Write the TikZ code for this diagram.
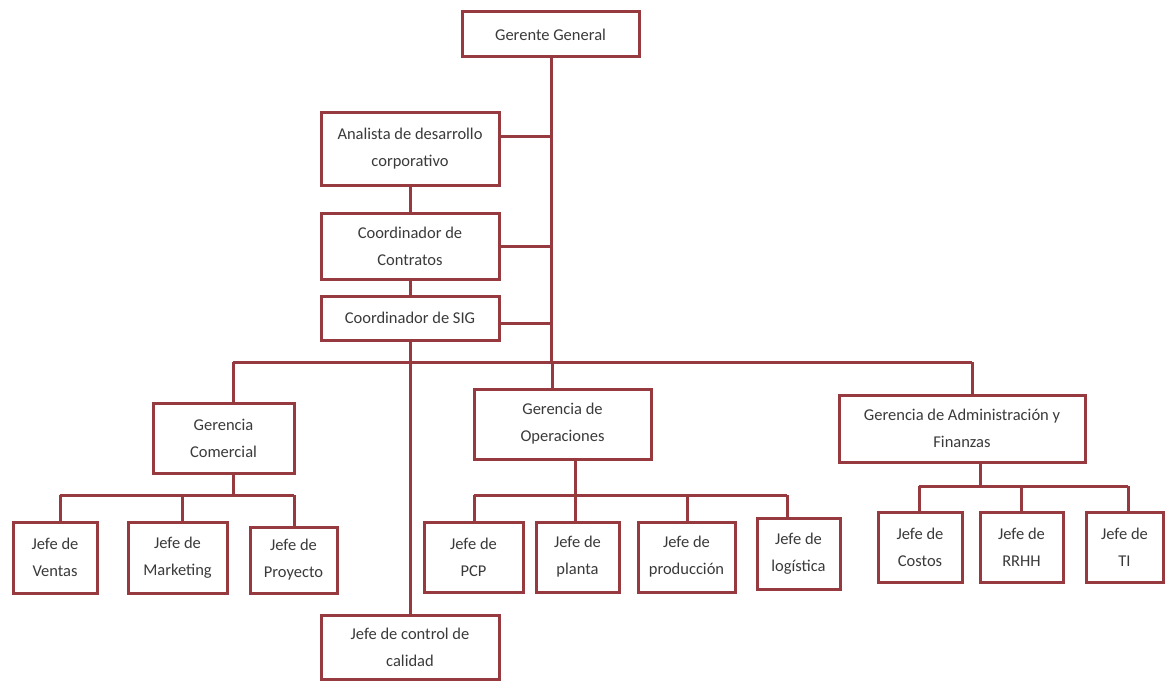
\documentclass[tikz,border=0pt]{standalone}
\usepackage{fontspec}
\setmainfont{Carlito}
\definecolor{edge}{RGB}{150,58,64}
\definecolor{ink}{RGB}{58,58,58}
\tikzset{
  orgbox/.style={draw=edge, line width=3pt, fill=white, align=center,
    inner sep=2pt, text=ink,
    font=\fontsize{16.5}{27}\selectfont},
  link/.style={draw=edge, line width=3pt}
}
\begin{document}
\begin{tikzpicture}[x=1pt,y=-1pt]
\useasboundingbox (0,0) rectangle (1167,682);

% boxes
\node[orgbox, minimum width=177, minimum height=45] (gg)  at (550.5,34.5) {Gerente General};
\node[orgbox, minimum width=178, minimum height=72] (ana) at (410,149) {Analista de desarrollo\\corporativo};
\node[orgbox, minimum width=178, minimum height=66] (con) at (410,246) {Coordinador de\\Contratos};
\node[orgbox, minimum width=178, minimum height=44] (sig) at (410,318) {Coordinador de SIG};
\node[orgbox, minimum width=178, minimum height=64] (cal) at (410,647) {Jefe de control de\\calidad};

\node[orgbox, minimum width=141, minimum height=70] (com) at (223.5,438) {Gerencia\\Comercial};
\node[orgbox, minimum width=177, minimum height=70] (ope) at (562.5,424) {Gerencia de\\Operaciones};
\node[orgbox, minimum width=246, minimum height=67] (adm) at (962,428.5) {Gerencia de Administración y\\Finanzas};

\node[orgbox, minimum width=84, minimum height=71] (ven) at (55,557.5) {Jefe de\\Ventas};
\node[orgbox, minimum width=99, minimum height=71] (mkt) at (177.5,557.5) {Jefe de\\Marketing};
\node[orgbox, minimum width=87, minimum height=66] (pro) at (293.5,560) {Jefe de\\Proyecto};

\node[orgbox, minimum width=99, minimum height=70] (pcp) at (473.5,557) {Jefe de\\PCP};
\node[orgbox, minimum width=83, minimum height=70] (pla) at (577.5,557) {Jefe de\\planta};
\node[orgbox, minimum width=97, minimum height=70] (prd) at (686.5,557) {Jefe de\\producción};
\node[orgbox, minimum width=83, minimum height=71] (log) at (798.5,553.5) {Jefe de\\logística};

\node[orgbox, minimum width=84, minimum height=70] (cos) at (920,547) {Jefe de\\Costos};
\node[orgbox, minimum width=83, minimum height=70] (rrh) at (1021.5,547) {Jefe de\\RRHH};
\node[orgbox, minimum width=77, minimum height=70] (ti)  at (1124.5,547) {Jefe de\\TI};

% junction points
\coordinate (bus) at (551,362);
\coordinate (t1) at (551,137);
\coordinate (t2) at (551,246);
\coordinate (t3) at (551,323);
\coordinate (bL) at (233,362);
\coordinate (bM) at (552,362);
\coordinate (bR) at (972,362);

\coordinate (cL) at (233,495);
\coordinate (cA) at (60,495);
\coordinate (cB) at (182,495);
\coordinate (cC) at (294,495);

\coordinate (oT) at (575,495);
\coordinate (oA) at (474,495);
\coordinate (oB) at (575,495);
\coordinate (oC) at (687,495);
\coordinate (oD) at (787,495);

\coordinate (aT) at (980,486);
\coordinate (aA) at (919,486);
\coordinate (aB) at (1021,486);
\coordinate (aC) at (1128,486);

% staff line and main bus
\draw[link] (gg.south -| bus) -- (bus);
\draw[link] (ana.east |- t1) -- (t1);
\draw[link] (con.east) -- (t2);
\draw[link] (sig.east |- t3) -- (t3);
\draw[link] (ana.south) -- (con.north);
\draw[link] (con.south) -- (sig.north);
\draw[link] (sig.south) -- (cal.north);
\draw[link] (bL) -- (bR);
\draw[link] (bL) -- (bL |- com.north);
\draw[link] (bM) -- (bM |- ope.north);
\draw[link] (bR) -- (bR |- adm.north);

% commercial branch
\draw[link] (com.south -| cL) -- (cL);
\draw[link] (cA) -- (cC);
\draw[link] (cA) -- (cA |- ven.north);
\draw[link] (cB) -- (cB |- mkt.north);
\draw[link] (cC) -- (cC |- pro.north);

% operations branch
\draw[link] (ope.south -| oT) -- (oT);
\draw[link] (oA) -- (oD);
\draw[link] (oA) -- (oA |- pcp.north);
\draw[link] (oB) -- (oB |- pla.north);
\draw[link] (oC) -- (oC |- prd.north);
\draw[link] (oD) -- (oD |- log.north);

% administration branch
\draw[link] (adm.south -| aT) -- (aT);
\draw[link] (aA) -- (aC);
\draw[link] (aA) -- (aA |- cos.north);
\draw[link] (aB) -- (aB |- rrh.north);
\draw[link] (aC) -- (aC |- ti.north);
\end{tikzpicture}
\end{document}
